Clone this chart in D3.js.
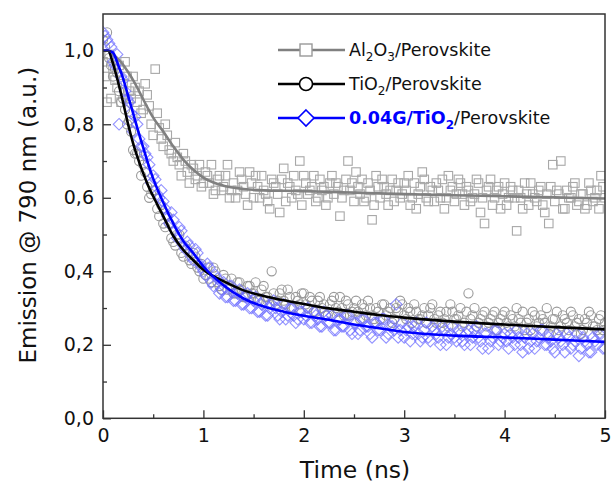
<!DOCTYPE html>
<html>
<head>
<meta charset="utf-8">
<script src="https://cdn.jsdelivr.net/npm/d3@7"></script>
<style>
  html, body { margin: 0; padding: 0; background: #fff; }
  svg { display: block; font-family: "DejaVu Sans", Verdana, sans-serif; }
</style>
</head>
<body>
<svg id="chart" width="612" height="495"></svg>
<script>
// ---------- data ----------
const time = [0.00,0.04,0.08,0.12,0.16,0.20,0.24,0.28,0.32,0.36,0.40,0.44,0.48,0.52,0.56,0.60,0.64,0.68,0.72,0.76,0.80,0.84,0.88,0.92,0.96,
1.00,1.04,1.08,1.12,1.16,1.20,1.24,1.28,1.32,1.36,1.40,1.44,1.48,1.52,1.56,1.60,1.64,1.68,1.72,1.76,1.80,1.84,1.88,1.92,1.96,
2.00,2.04,2.08,2.12,2.16,2.20,2.24,2.28,2.32,2.36,2.40,2.44,2.48,2.52,2.56,2.60,2.64,2.68,2.72,2.76,2.80,2.84,2.88,2.92,2.96,
3.00,3.04,3.08,3.12,3.16,3.20,3.24,3.28,3.32,3.36,3.40,3.44,3.48,3.52,3.56,3.60,3.64,3.68,3.72,3.76,3.80,3.84,3.88,3.92,3.96,
4.00,4.04,4.08,4.12,4.16,4.20,4.24,4.28,4.32,4.36,4.40,4.44,4.48,4.52,4.56,4.60,4.64,4.68,4.72,4.76,4.80,4.84,4.88,4.92,4.96,5.00];

const al2o3 = [0.97,0.86,0.87,0.92,0.96,0.91,0.93,0.87,0.90,0.89,0.84,0.88,0.80,0.95,0.79,0.74,0.77,0.72,0.75,0.69,0.72,0.67,0.69,0.65,0.69,
0.64,0.66,0.69,0.62,0.66,0.63,0.69,0.62,0.60,0.67,0.63,0.58,0.64,0.66,0.60,0.62,0.59,0.65,0.63,0.56,0.68,0.64,0.60,0.62,0.70,
0.66,0.61,0.63,0.59,0.65,0.63,0.60,0.66,0.64,0.55,0.62,0.70,0.64,0.67,0.61,0.59,0.64,0.54,0.66,0.60,0.63,0.58,0.65,0.62,0.60,
0.64,0.66,0.60,0.57,0.63,0.65,0.59,0.62,0.64,0.60,0.57,0.66,0.63,0.61,0.64,0.58,0.62,0.60,0.65,0.56,0.53,0.63,0.58,0.62,0.57,
0.64,0.60,0.62,0.51,0.60,0.64,0.58,0.61,0.59,0.63,0.56,0.53,0.69,0.62,0.70,0.57,0.60,0.63,0.58,0.61,0.57,0.64,0.59,0.62,0.66,0.60];

const tio2 = [1.03,1.05,0.96,0.95,0.89,0.87,0.80,0.78,0.72,0.70,0.69,0.63,0.61,0.62,0.55,0.53,0.55,0.49,0.47,0.50,0.44,0.46,0.42,0.44,0.40,
0.38,0.41,0.37,0.40,0.36,0.39,0.35,0.38,0.34,0.37,0.33,0.36,0.34,0.37,0.32,0.36,0.33,0.40,0.31,0.34,0.32,0.35,0.30,0.33,0.31,
0.34,0.30,0.32,0.29,0.33,0.31,0.28,0.32,0.30,0.33,0.28,0.31,0.29,0.32,0.27,0.30,0.32,0.28,0.30,0.27,0.31,0.29,0.26,0.30,0.32,
0.28,0.30,0.26,0.29,0.27,0.30,0.28,0.31,0.26,0.29,0.27,0.25,0.29,0.27,0.30,0.26,0.34,0.28,0.25,0.27,0.29,0.26,0.28,0.24,0.27,
0.29,0.25,0.27,0.30,0.26,0.24,0.27,0.29,0.25,0.28,0.26,0.23,0.27,0.29,0.25,0.27,0.24,0.28,0.26,0.23,0.27,0.29,0.25,0.24,0.28,0.26];

const g004 = [1.05,1.03,1.01,0.96,0.80,0.92,0.87,0.83,0.82,0.76,0.74,0.71,0.64,0.65,0.60,0.59,0.55,0.56,0.51,0.52,0.47,0.48,0.44,0.46,0.42,
0.40,0.42,0.37,0.39,0.34,0.37,0.33,0.36,0.32,0.35,0.31,0.34,0.30,0.33,0.29,0.32,0.28,0.31,0.30,0.27,0.31,0.28,0.30,0.26,0.29,
0.27,0.30,0.26,0.28,0.25,0.29,0.26,0.28,0.24,0.27,0.25,0.28,0.23,0.26,0.24,0.27,0.25,0.22,0.26,0.24,0.27,0.23,0.25,0.31,0.24,
0.22,0.25,0.23,0.26,0.21,0.24,0.22,0.25,0.23,0.20,0.24,0.22,0.25,0.21,0.23,0.20,0.24,0.22,0.25,0.21,0.23,0.19,0.22,0.24,0.21,
0.23,0.19,0.22,0.24,0.20,0.22,0.19,0.23,0.21,0.24,0.20,0.22,0.19,0.23,0.21,0.18,0.22,0.20,0.23,0.19,0.21,0.18,0.22,0.20,0.23,0.19];

// interleaved samples (odd channels)
const time2 = [0.02,0.06,0.10,0.14,0.18,0.22,0.26,0.30,0.34,0.38,0.42,0.46,0.50,0.54,0.58,0.62,0.66,0.70,0.74,0.78,0.82,0.86,0.90,0.94,0.98,
1.02,1.06,1.10,1.14,1.18,1.22,1.26,1.30,1.34,1.38,1.42,1.46,1.50,1.54,1.58,1.62,1.66,1.70,1.74,1.78,1.82,1.86,1.90,1.94,1.98,
2.02,2.06,2.10,2.14,2.18,2.22,2.26,2.30,2.34,2.38,2.42,2.46,2.50,2.54,2.58,2.62,2.66,2.70,2.74,2.78,2.82,2.86,2.90,2.94,2.98,
3.02,3.06,3.10,3.14,3.18,3.22,3.26,3.30,3.34,3.38,3.42,3.46,3.50,3.54,3.58,3.62,3.66,3.70,3.74,3.78,3.82,3.86,3.90,3.94,3.98,
4.02,4.06,4.10,4.14,4.18,4.22,4.26,4.30,4.34,4.38,4.42,4.46,4.50,4.54,4.58,4.62,4.66,4.70,4.74,4.78,4.82,4.86,4.90,4.94,4.98];

const al2o3b = [0.93,0.99,0.95,0.90,0.86,0.97,0.89,0.93,0.86,0.83,0.91,0.85,0.77,0.83,0.76,0.80,0.73,0.70,0.71,0.66,0.70,0.64,0.68,0.66,0.63,
0.67,0.64,0.61,0.65,0.62,0.66,0.60,0.64,0.62,0.65,0.61,0.67,0.60,0.63,0.66,0.61,0.57,0.64,0.61,0.65,0.59,0.63,0.66,0.61,0.58,
0.64,0.62,0.66,0.60,0.62,0.58,0.64,0.61,0.63,0.60,0.65,0.62,0.59,0.63,0.65,0.60,0.62,0.58,0.63,0.65,0.61,0.62,0.59,0.64,0.61,
0.62,0.58,0.64,0.61,0.67,0.60,0.63,0.59,0.62,0.65,0.60,0.62,0.59,0.65,0.61,0.63,0.59,0.61,0.64,0.60,0.62,0.65,0.60,0.63,0.61,
0.58,0.63,0.60,0.62,0.57,0.61,0.64,0.60,0.62,0.58,0.61,0.63,0.59,0.61,0.57,0.62,0.60,0.64,0.59,0.61,0.58,0.62,0.60,0.57,0.63];

const tio2b = [1.01,0.98,0.93,0.94,0.86,0.84,0.81,0.73,0.72,0.66,0.67,0.60,0.62,0.57,0.58,0.52,0.53,0.48,0.50,0.45,0.47,0.43,0.45,0.41,0.42,
0.39,0.38,0.41,0.37,0.35,0.38,0.36,0.34,0.37,0.35,0.33,0.36,0.34,0.32,0.35,0.33,0.31,0.34,0.32,0.35,0.31,0.33,0.30,0.32,0.34,
0.31,0.33,0.29,0.32,0.30,0.28,0.31,0.33,0.29,0.30,0.32,0.28,0.30,0.29,0.31,0.28,0.30,0.27,0.29,0.31,0.28,0.30,0.27,0.29,0.31,
0.27,0.29,0.31,0.27,0.28,0.26,0.30,0.27,0.28,0.26,0.29,0.31,0.27,0.28,0.25,0.29,0.27,0.30,0.26,0.28,0.25,0.27,0.29,0.26,0.28,
0.26,0.28,0.25,0.27,0.29,0.26,0.24,0.28,0.26,0.27,0.30,0.25,0.27,0.24,0.28,0.26,0.29,0.25,0.27,0.24,0.26,0.28,0.25,0.27,0.24];

const g004b = [1.04,1.02,0.97,0.99,0.93,0.89,0.86,0.78,0.80,0.74,0.72,0.69,0.66,0.61,0.62,0.57,0.53,0.54,0.49,0.51,0.46,0.47,0.43,0.45,0.41,
0.39,0.41,0.36,0.38,0.35,0.33,0.36,0.32,0.34,0.31,0.33,0.30,0.32,0.29,0.31,0.28,0.30,0.32,0.28,0.29,0.27,0.30,0.28,0.27,0.29,
0.28,0.26,0.29,0.27,0.25,0.28,0.26,0.24,0.27,0.25,0.28,0.24,0.26,0.23,0.27,0.25,0.23,0.26,0.24,0.27,0.22,0.25,0.24,0.22,0.26,
0.24,0.21,0.25,0.23,0.22,0.26,0.21,0.24,0.22,0.25,0.20,0.23,0.22,0.24,0.21,0.23,0.20,0.24,0.22,0.19,0.23,0.21,0.24,0.20,0.22,
0.21,0.23,0.20,0.22,0.18,0.23,0.21,0.19,0.22,0.24,0.20,0.21,0.18,0.22,0.20,0.23,0.19,0.21,0.17,0.22,0.20,0.18,0.21,0.23,0.19];

// fitted curves
const fitTime = [0,0.05,0.1,0.15,0.2,0.25,0.3,0.35,0.4,0.45,0.5,0.6,0.7,0.8,0.9,1.0,1.2,1.4,1.6,1.8,2.0,2.25,2.5,2.75,3.0,3.5,4.0,4.5,5.0];
const fitAl2o3 = [1.0,1.0,0.99,0.978,0.962,0.942,0.92,0.895,0.868,0.842,0.818,0.78,0.74,0.704,0.676,0.655,0.633,0.624,0.62,0.619,0.618,0.616,0.614,0.612,0.61,0.607,0.604,0.601,0.598];
const fitTio2  = [1.0,1.0,0.965,0.915,0.86,0.80,0.748,0.705,0.667,0.633,0.604,0.55,0.496,0.458,0.43,0.404,0.373,0.348,0.333,0.321,0.311,0.299,0.29,0.281,0.274,0.263,0.255,0.248,0.242];
const fitG004  = [1.0,1.0,0.995,0.962,0.925,0.877,0.83,0.782,0.737,0.692,0.652,0.587,0.53,0.482,0.449,0.413,0.362,0.326,0.304,0.29,0.279,0.268,0.255,0.245,0.235,0.225,0.22,0.214,0.208];

const xTicks = [0,1,2,3,4,5];
const xMinor = [0.5,1.5,2.5,3.5,4.5];
const yTicks = [0,0.2,0.4,0.6,0.8,1.0];
const yMinor = [0.1,0.3,0.5,0.7,0.9];

// ---------- layout ----------
const L = 103, R = 605, T = 14, B = 418.3;
const svg = d3.select("#chart");
const x = d3.scaleLinear().domain([0,5]).range([L,R]);
const y = d3.scaleLinear().domain([0,1.1]).range([B,T]);

svg.append("defs").append("clipPath").attr("id","plotclip")
  .append("rect").attr("x",L).attr("y",T).attr("width",R-L).attr("height",B-T);

const plot = svg.append("g").attr("clip-path","url(#plotclip)");

const pts = (ts, vs) => ts.map((t,i)=>[t,vs[i]]);
const alPts = pts(time,al2o3).concat(pts(time2,al2o3b));
const tiPts = pts(time,tio2).concat(pts(time2,tio2b));
const gPts  = pts(time,g004).concat(pts(time2,g004b));

// scatter
const sq = 8.5;
plot.append("g").selectAll("rect").data(alPts).join("rect")
  .attr("x",d=>x(d[0])-sq/2).attr("y",d=>y(d[1])-sq/2).attr("width",sq).attr("height",sq)
  .attr("fill","none").attr("stroke","#a8a8a8").attr("stroke-width",1.1);

plot.append("g").selectAll("circle").data(tiPts).join("circle")
  .attr("cx",d=>x(d[0])).attr("cy",d=>y(d[1])).attr("r",4.6)
  .attr("fill","none").attr("stroke","#9a9a9a").attr("stroke-width",1.1);

const dm = 5.8;
plot.append("g").selectAll("path").data(gPts).join("path")
  .attr("d",d=>`M${x(d[0])},${y(d[1])-dm}L${x(d[0])+dm},${y(d[1])}L${x(d[0])},${y(d[1])+dm}L${x(d[0])-dm},${y(d[1])}Z`)
  .attr("fill","none").attr("stroke","#6f6fff").attr("stroke-opacity",0.75).attr("stroke-width",1.1);

// fit lines
const line = d3.line().x(d=>x(d[0])).y(d=>y(d[1])).curve(d3.curveMonotoneX);
[[fitAl2o3,"#808080"],[fitTio2,"#000000"],[fitG004,"#0000ff"]].forEach(([vals,col])=>{
  plot.append("path").datum(fitTime.map((t,i)=>[t,vals[i]]))
    .attr("d",line).attr("fill","none").attr("stroke",col).attr("stroke-width",2.6);
});

// axes
const fmt = d => d3.format(".1f")(d).replace(".",",");
const axisColor = "#333";
const gx = svg.append("g").attr("transform",`translate(0,${B})`)
  .call(d3.axisBottom(x).tickValues(xTicks).tickSize(-8).tickPadding(8).tickFormat(d3.format("d")));
const gxm = svg.append("g").attr("transform",`translate(0,${B})`)
  .call(d3.axisBottom(x).tickValues(xMinor).tickSize(-4).tickFormat(""));
const gy = svg.append("g").attr("transform",`translate(${L},0)`)
  .call(d3.axisLeft(y).tickValues(yTicks).tickSize(-8).tickPadding(9).tickFormat(fmt));
const gym = svg.append("g").attr("transform",`translate(${L},0)`)
  .call(d3.axisLeft(y).tickValues(yMinor).tickSize(-4).tickFormat(""));
[gx,gxm,gy,gym].forEach(g=>{
  g.select(".domain").remove();
  g.selectAll("line").attr("stroke",axisColor).attr("stroke-width",1.3);
  g.selectAll("text").attr("fill","#111").style("font-size","19px").style("font-family","DejaVu Sans, sans-serif");
});
gx.selectAll("text").attr("dy","0.85em");
// frame
svg.append("rect").attr("x",L).attr("y",T).attr("width",R-L).attr("height",B-T)
  .attr("fill","none").attr("stroke",axisColor).attr("stroke-width",1.5);

// axis titles
svg.append("text").attr("x",(L+R)/2 + 1).attr("y",478).attr("text-anchor","middle")
  .style("font-size","23.5px").attr("fill","#111").text("Time (ns)");
svg.append("text").attr("transform",`translate(36,${(T+B)/2 - 1}) rotate(-90)`).attr("text-anchor","middle")
  .style("font-size","23px").attr("fill","#111").text("Emission @ 790 nm (a.u.)");

// legend
const legend = svg.append("g");
const legItems = [
  {y:50, col:"#808080", mk:"sq", parts:[["Al","n"],["2","s"],["O","n"],["3","s"],["/Perovskite","n"]]},
  {y:84, col:"#000000", mk:"ci", parts:[["TiO","n"],["2","s"],["/Perovskite","n"]]},
  {y:118, col:"#0000ff", mk:"di", parts:[["0.04G/TiO","b"],["2","bs"],["/Perovskite","n"]]}
];
legItems.forEach(it=>{
  legend.append("line").attr("x1",278).attr("x2",345).attr("y1",it.y).attr("y2",it.y)
    .attr("stroke",it.col).attr("stroke-width",2.4);
  const cx = 306;
  if (it.mk==="sq") legend.append("rect").attr("x",cx-6).attr("y",it.y-6).attr("width",12).attr("height",12)
      .attr("fill","#fff").attr("stroke","#999").attr("stroke-width",1.4);
  if (it.mk==="ci") legend.append("circle").attr("cx",cx).attr("cy",it.y).attr("r",6.5)
      .attr("fill","#fff").attr("stroke","#000").attr("stroke-width",1.6);
  if (it.mk==="di") legend.append("path").attr("d",`M${cx},${it.y-8}L${cx+8},${it.y}L${cx},${it.y+8}L${cx-8},${it.y}Z`)
      .attr("fill","#fff").attr("stroke","#0000ff").attr("stroke-width",1.6);
  const t = legend.append("text").attr("x",349).attr("y",it.y+6).style("font-size","17.5px").attr("fill","#111");
  let sub = false;
  it.parts.forEach(([s,k])=>{
    const ts = t.append("tspan").text(s);
    const isSub = k==="s"||k==="bs";
    if (isSub && !sub) ts.attr("dy",5);
    if (!isSub && sub) ts.attr("dy",-5);
    sub = isSub;
    if (isSub) ts.style("font-size","12px");
    if (k==="b"||k==="bs") ts.attr("fill","#0000ff").style("font-weight","bold");
  });
});
</script>
</body>
</html>
